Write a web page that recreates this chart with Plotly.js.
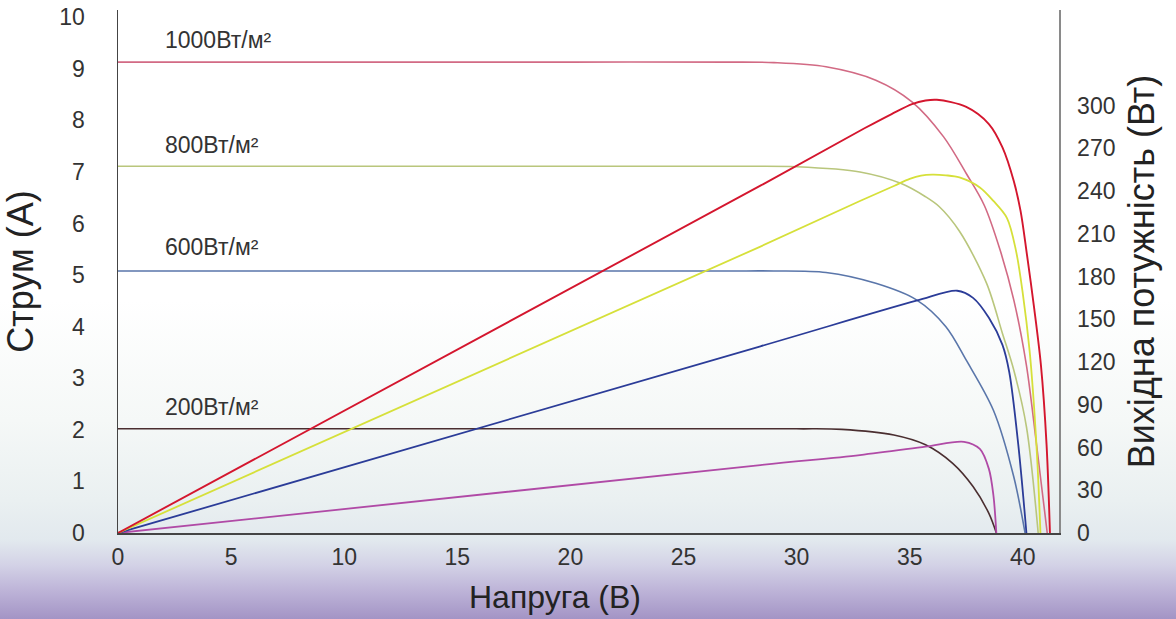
<!DOCTYPE html>
<html>
<head>
<meta charset="utf-8">
<script src="https://cdn.plot.ly/plotly-3.0.1.min.js"></script>
<style>
  html, body { margin: 0; padding: 0; }
  #chart {
    width: 1176px; height: 619px;
    background: linear-gradient(to bottom, #ffffff 0px, #ffffff 300px, #f5f8f7 420px, #eaf0f1 500px, #e2e9ee 540px, #d3d2e6 565px, #bcb2d7 592px, #a394c5 619px);
  }
</style>
</head>
<body>
<div id="chart"></div>
<script>
// ---- Data ----
// Current curves (A) vs voltage (V)
const v1000I = [0, 10, 20, 27, 29.0, 31.3, 33.5, 35.1, 36.5, 37.5, 38.3, 39.0, 39.6, 40.16, 40.6, 41.08];
const i1000  = [9.13, 9.13, 9.13, 9.13, 9.12, 9.04, 8.78, 8.36, 7.68, 6.97, 6.35, 5.48, 4.52, 3.25, 1.74, 0];

const v800I  = [0, 10, 20, 28, 30.0, 32.8, 34.6, 35.7, 36.3, 37.2, 38.4, 39.1, 39.6, 40.16, 40.68];
const i800   = [7.11, 7.11, 7.11, 7.11, 7.10, 7.0, 6.78, 6.52, 6.33, 5.85, 4.84, 3.87, 3.16, 2.06, 0];

const v600I  = [0, 10, 20, 27, 29.0, 31.3, 33.5, 35.3, 36.6, 37.5, 38.7, 39.6, 40.1];
const i600   = [5.08, 5.08, 5.08, 5.08, 5.08, 5.05, 4.84, 4.52, 4.0, 3.35, 2.38, 1.09, 0];

const v200I  = [0, 10, 20, 30, 32.0, 34.3, 35.7, 36.9, 37.8, 38.5, 38.83];
const i200   = [2.02, 2.02, 2.02, 2.02, 2.01, 1.90, 1.71, 1.35, 0.90, 0.38, 0];

// Power curves (W) vs voltage (V)
const v1000P = [0, 28.4, 33.0, 34.2, 35.1, 35.7, 36.2, 37.5, 38.5, 39.1, 39.6, 39.9, 40.16, 40.5, 40.8, 41.05, 41.2];
const p1000  = [0, 243.7, 284, 294, 301, 303.5, 304, 299, 287, 270.6, 247, 226, 198, 158, 118, 62, 0];

const v800P  = [0, 28.4, 32.8, 34.3, 35.0, 35.5, 36.0, 36.6, 37.2, 38.1, 38.7, 39.3, 39.7, 40.0, 40.3, 40.5, 40.65, 40.78];
const p800   = [0, 201, 233, 243.5, 248.5, 250.8, 251.5, 251, 249.5, 242.5, 233, 221, 198, 168, 128, 88, 48, 0];

const v600P  = [0, 28.4, 35.3, 37.1, 37.8, 38.5, 39.1, 39.4, 39.8, 40.16];
const p600   = [0, 131, 163, 170, 165, 151, 132, 113, 62, 0];

const v200P  = [0, 28.4, 32.8, 35.7, 37.4, 38.1, 38.5, 38.7, 38.83];
const p200   = [0, 47.7, 54.7, 60.6, 64, 59, 45, 26.5, 0];

const xTicks  = [0, 5, 10, 15, 20, 25, 30, 35, 40];
const yTicks  = [0, 1, 2, 3, 4, 5, 6, 7, 8, 9, 10];
const y2Ticks = [0, 30, 60, 90, 120, 150, 180, 210, 240, 270, 300];

const irrLabels = ['1000Вт/м²', '800Вт/м²', '600Вт/м²', '200Вт/м²'];
const irrLabelY = [9.55, 7.52, 5.54, 2.45];

const xTitle = 'Напруга (В)';
const yTitle = 'Струм (А)';
const y2Title = 'Вихідна потужність (Вт)';

// ---- Figure ----
const FONT = 'Liberation Sans, Arial, sans-serif';
function curve(x, y, color, width, axis) {
  return { x: x, y: y, type: 'scatter', mode: 'lines', yaxis: axis,
           line: { color: color, width: width, shape: 'spline', smoothing: 0.9 },
           hoverinfo: 'skip', showlegend: false };
}

const traces = [
  curve(v200I, i200, '#4a2e30', 1.6, 'y'),
  curve(v200P, p200, '#b04aa6', 1.8, 'y2'),
  curve(v600I, i600, '#5a76aa', 1.6, 'y'),
  curve(v600P, p600, '#2b3c98', 1.8, 'y2'),
  curve(v800I, i800, '#b9c67c', 1.6, 'y'),
  curve(v800P, p800, '#d6e03a', 1.8, 'y2'),
  curve(v1000I, i1000, '#d26a84', 1.6, 'y'),
  curve(v1000P, p1000, '#d4162e', 1.9, 'y2')
];

const annotations = irrLabels.map((t, k) => ({
  text: t, x: 2.0, y: irrLabelY[k], xref: 'x', yref: 'y',
  xanchor: 'left', yanchor: 'middle', showarrow: false,
  font: { family: FONT, size: 23, color: '#333333' }
}));
annotations.push({
  text: xTitle, x: 0.464, y: -0.122, xref: 'paper', yref: 'paper',
  xanchor: 'center', yanchor: 'middle', showarrow: false,
  font: { family: FONT, size: 32, color: '#222222' }
});

const layout = {
  width: 1176, height: 619,
  margin: { l: 118, r: 117, t: 10, b: 86 },
  paper_bgcolor: 'rgba(0,0,0,0)',
  plot_bgcolor: 'rgba(0,0,0,0)',
  font: { family: FONT, color: '#333333' },
  xaxis: {
    range: [0, 41.6], tickvals: xTicks, ticktext: xTicks.map(String),
    showgrid: false, zeroline: false,
    showline: true, linecolor: '#444444', linewidth: 1.5,
    ticks: 'outside', ticklen: 3, tickcolor: 'rgba(0,0,0,0)',
    tickfont: { family: FONT, size: 23, color: '#333333' }
  },
  yaxis: {
    range: [0, 10.14], tickvals: yTicks, ticktext: yTicks.map(String),
    showgrid: false, zeroline: false,
    showline: true, linecolor: '#444444', linewidth: 1.5,
    ticks: 'outside', ticklen: 27, tickcolor: 'rgba(0,0,0,0)',
    tickfont: { family: FONT, size: 23, color: '#333333' },
    title: { text: yTitle, standoff: 14,
             font: { family: FONT, size: 36, color: '#222222' } }
  },
  yaxis2: {
    range: [0, 367], tickvals: y2Ticks, ticktext: y2Ticks.map(String),
    overlaying: 'y', side: 'right',
    showgrid: false, zeroline: false,
    showline: true, linecolor: '#8a8a8a', linewidth: 1.5,
    ticks: 'outside', ticklen: 12, tickcolor: 'rgba(0,0,0,0)',
    tickfont: { family: FONT, size: 23, color: '#333333' },
    title: { text: y2Title, standoff: 14,
             font: { family: FONT, size: 36, color: '#222222' } }
  },
  annotations: annotations
};

Plotly.newPlot('chart', traces, layout, { displayModeBar: false, staticPlot: true });
</script>
</body>
</html>
